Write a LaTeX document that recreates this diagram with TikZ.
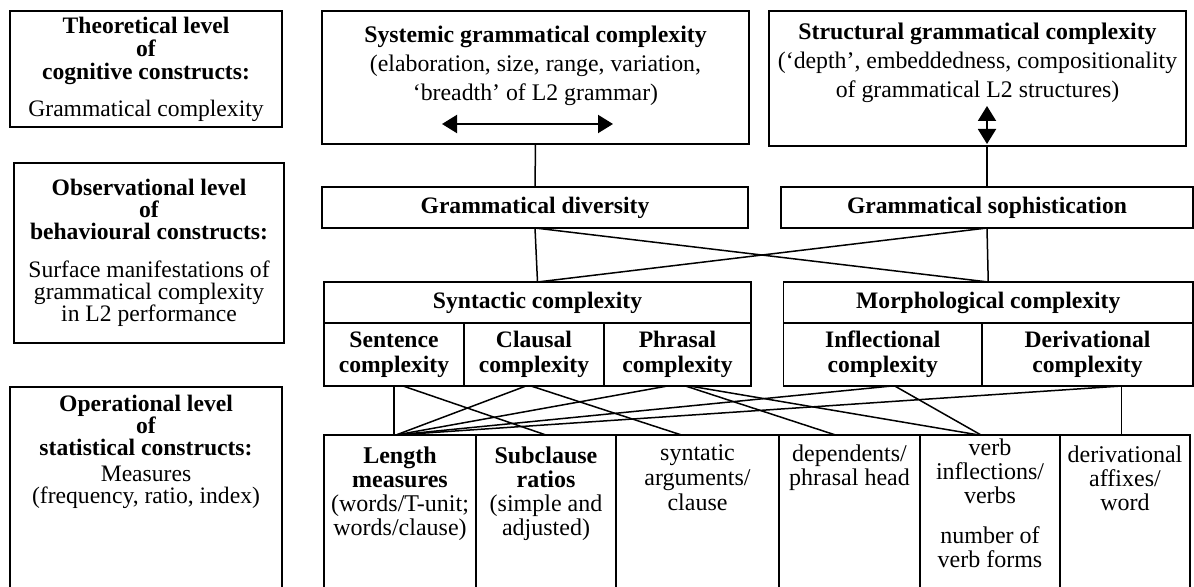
\documentclass[tikz,border=0pt]{standalone}
\usepackage{fontspec}
\setmainfont{Liberation Serif}
\usetikzlibrary{positioning}
\usetikzlibrary{arrows.meta}

\begin{document}
\begin{tikzpicture}[
			x=0.5pt, y=-0.5pt,
			box/.style = {draw, line width=0.75pt, inner sep=0pt, outer sep=0pt, align=center},
			lvl/.style = {box, font=\fontsize{11.8}{11}\selectfont, minimum width=136pt},
			head/.style = {box, font=\bfseries\fontsize{11.8}{13}\selectfont, minimum height=20.5pt},
			sub/.style = {box, font=\bfseries\fontsize{11.8}{12.5}\selectfont, minimum height=31.5pt},
			col/.style = {box, minimum height=92pt},
			toptxt/.style = {align=center, inner sep=0pt, anchor=north, font=\fontsize{11.9}{14.4}\selectfont},
			coltxt/.style = {align=center, inner sep=0pt, anchor=north, font=\fontsize{12}{12}\selectfont},
			link/.style = {line width=0.75pt},
			dbl/.style = {{Triangle[length=7.5pt,width=9pt]}-{Triangle[length=7.5pt,width=9pt]}, line width=1pt}
			]
			\useasboundingbox (0,0) rectangle (1194,587);
			\clip (0,0) rectangle (1194,587);
			\node (theo) [lvl, minimum height=58pt, font=\fontsize{11.8}{11.5}\selectfont] at (146,69) {\textbf{Theoretical level}\\\textbf{of}\\\textbf{cognitive constructs:}\\[7pt]Grammatical complexity};
			\node (obs) [lvl, minimum width=135pt, minimum height=90pt] at (149,253) {\textbf{Observational level}\\\textbf{of}\\\textbf{behavioural constructs:}\\[8pt]Surface manifestations of\\grammatical complexity\\in L2 performance};
			\node (oper) [lvl, minimum height=113pt] at (146,500) {};
			\node (opertxt) [coltxt, font=\fontsize{11.8}{11}\selectfont] at ([yshift=-4pt]oper.north) {\textbf{Operational level}\\\textbf{of}\\\textbf{statistical constructs:}\\[2pt]Measures\\(frequency, ratio, index)};
			\node (sys) [box, minimum width=213.5pt, minimum height=66.5pt] at (535.5,77.5) {};
			\node (systxt) [toptxt] at ([yshift=-7.5pt]sys.north) {\textbf{Systemic grammatical complexity}\\(elaboration, size, range, variation,\\‘breadth’ of L2 grammar)};
			\node (struct) [box, minimum width=208.5pt, minimum height=67.5pt] at (977.5,78.5) {};
			\node (structxt) [toptxt] at ([yshift=-6pt]struct.north) {\textbf{Structural grammatical complexity}\\(‘depth’, embeddedness, compositionality\\of grammatical L2 structures)};
			\coordinate (sysL) at (442,124);
			\coordinate (sysR) at (613,124);
			\coordinate (strU) at (987,106);
			\coordinate (strD) at (987,144);
			\node (div) [head, minimum width=213pt] at (535,207.5) {Grammatical diversity};
			\node (soph) [head, minimum width=206pt] at (987,207.5) {Grammatical sophistication};
			\node (synt) [head, minimum width=213.5pt] at (537.5,302.5) {Syntactic complexity};
			\node (sent) [sub, minimum width=70pt, below right=0pt and 0pt of synt.south west] {Sentence\\complexity};
			\node (claus) [sub, minimum width=70pt, right=0pt of sent] {Clausal\\complexity};
			\node (phras) [sub, minimum width=73.5pt, right=0pt of claus] {Phrasal\\complexity};
			\node (morph) [head, minimum width=204.75pt] at (988.25,302.5) {Morphological complexity};
			\node (infl) [sub, minimum width=99.25pt, below right=0pt and 0pt of morph.south west] {Inflectional\\complexity};
			\node (deriv) [sub, minimum width=105.5pt, right=0pt of infl] {Derivational\\complexity};
			\node (len) [col, minimum width=76pt] at (400,527) {};
			\node (subcl) [col, minimum width=70pt, right=0pt of len] {};
			\node (synarg) [col, minimum width=81.5pt, right=0pt of subcl] {};
			\node (dep) [col, minimum width=70.5pt, right=0pt of synarg] {};
			\node (verb) [col, minimum width=70pt, right=0pt of dep] {};
			\node (affx) [col, minimum width=65pt, right=0pt of verb] {};
			\node (lentxt) [coltxt] at ([yshift=-5.5pt]len.north) {\textbf{Length}\\\textbf{measures}\\(words/T-unit;\\words/clause)};
			\node (subcltxt) [coltxt] at ([yshift=-5.5pt]subcl.north) {\textbf{Subclause}\\\textbf{ratios}\\(simple and\\adjusted)};
			\node (synargtxt) [coltxt, font=\fontsize{12}{12.5}\selectfont] at ([yshift=-4.5pt]synarg.north) {syntatic\\arguments/\\clause};
			\node (deptxt) [coltxt] at ([yshift=-4.5pt]dep.north) {dependents/\\phrasal head};
			\node (verbtxt) [coltxt] at ([yshift=-1.5pt]verb.north) {verb\\inflections/\\verbs\\[8pt]number of\\verb forms};
			\node (affxtxt) [coltxt] at ([yshift=-5pt]affx.north) {derivational\\affixes/\\word};
			\draw [dbl] (sysL) -- (sysR);
			\draw [dbl] (strU) -- (strD);
			\path [link]
			(sys.south) edge (div.north)
			(struct.south -| soph.north) edge (soph.north)
			(div.south) edge (synt.north)
			(div.south) edge (morph.north)
			(soph.south) edge (morph.north)
			(soph.south) edge (synt.north)
			(sent.south) edge (sent.south |- len.north)
			([xshift=4.5pt]sent.south) edge (subcl.north)
			([xshift=-4pt]claus.south) edge ([xshift=-2pt]len.north)
			([xshift=-1.5pt]claus.south) edge ([xshift=-8pt]synarg.north)
			([xshift=-5pt]phras.south) edge ([xshift=-2pt]len.north)
			([xshift=4pt]phras.south) edge ([xshift=-7pt]dep.north)
			([xshift=6pt]phras.south) edge ([xshift=-5.5pt]verb.north)
			([xshift=4.5pt]infl.south) edge ([xshift=-2pt]len.north)
			([xshift=6pt]infl.south) edge ([xshift=-4.5pt]verb.north)
			([xshift=17pt]deriv.south) edge ([xshift=-2pt]len.north)
			([xshift=17pt]deriv.south) edge ([xshift=17pt]deriv.south |- affx.north);
		\end{tikzpicture}
\end{document}
